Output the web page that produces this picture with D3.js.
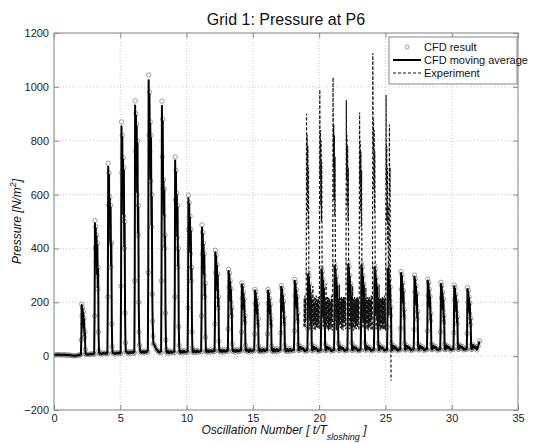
<!DOCTYPE html>
<html>
<head>
<meta charset="utf-8">
<script src="https://cdn.jsdelivr.net/npm/d3@7"></script>
<style>
	body { margin: 0; background: #fff; }
	text { font-family: Arial, 'Liberation Sans', sans-serif; }
</style>
</head>
<body>
<script>
// CFD baseline, one row per oscillation (t = row + k/10)
let baseRows = [
	[4,5,5,6,5,5,4,5,5,4],
	[4,4,3,3,2,1,1,2,3,4],
	[5,6,6,7,7,6,6,7,8,8],
	[8,11,7,12,8,11,7,12,9,12],
	[9,13,8,13,8,12,8,13,10,13],
	[10,16,9,17,10,16,9,17,11,17],
	[12,18,60,35,28,18,12,19,12,19],
	[15,20,70,90,62,45,40,26,22,14],
	[16,22,35,25,20,12,19,11,19,13],
	[15,21,22,18,20,13,20,12,21,14],
	[16,22,20,19,21,14,21,13,22,15],
	[17,23,20,19,22,15,22,14,23,16],
	[18,24,20,20,23,15,23,14,24,16],
	[19,25,21,20,24,16,24,15,25,17],
	[20,26,21,21,25,16,25,15,26,17],
	[21,27,22,22,26,17,26,16,27,18],
	[22,28,23,22,27,17,27,16,28,18],
	[23,28,24,23,27,18,27,17,28,19],
	[22,24,26,28,34,27,35,25,30,18],
	[21,23,26,28,35,27,36,25,30,18],
	[21,23,27,29,35,28,36,26,31,18],
	[22,24,27,30,36,28,37,26,31,19],
	[22,24,28,30,36,29,37,27,32,19],
	[22,24,28,31,37,29,38,27,32,19],
	[23,25,28,31,37,30,38,28,33,20],
	[23,25,29,32,38,30,39,28,33,20],
	[24,26,29,32,38,31,39,29,34,21],
	[24,26,30,33,39,31,40,29,34,21],
	[25,27,30,33,39,32,40,30,35,22],
	[25,27,31,34,40,32,41,30,35,22],
	[26,28,31,34,40,33,41,31,36,23],
	[26,28,32,35,41,33,42,31,36,23],
	[38,56]
]

// CFD impact pulses: start time and values every 0.03
let pulseStart = [2.03, 3.03, 4.03, 5.03, 6.06, 7.08, 8.08, 9.08, 10.08, 11.1,
	12.11, 13.11, 14.11, 15.1, 16.08, 17.08, 18.1, 19.11, 20.12, 21.12,
	22.13, 23.13, 24.13, 25.12, 26.12, 27.13, 28.13, 29.13, 30.13, 31.13]
let pulseValues = [
	[6,60,193,150,180,120,165,100,140,70,90,25,9,7],
	[8,150,503,400,480,350,450,300,420,250,330,90,20,9],
	[9,220,716,560,680,480,590,420,560,330,420,120,35,12],
	[10,260,870,680,820,600,737,520,700,400,500,160,50,16],
	[12,280,948,760,900,700,862,600,800,450,560,200,90,40],
	[15,310,1044,820,980,760,870,650,820,480,600,230,130,75],
	[13,280,947,740,880,620,654,520,620,400,450,160,60,25],
	[13,220,740,580,690,500,605,440,560,330,400,110,40,16],
	[14,180,598,470,570,420,520,380,470,280,330,90,30,17],
	[16,150,487,380,460,330,420,300,380,220,270,70,22,17],
	[17,120,393,310,375,270,340,240,305,180,220,55,20,17],
	[18,100,322,255,308,220,280,200,250,150,180,45,20,18],
	[19,90,272,215,260,185,236,170,212,125,150,40,21,19],
	[20,82,248,195,238,170,215,155,193,115,138,38,21,20],
	[21,82,248,196,237,168,214,154,192,114,137,38,22,21],
	[22,86,262,207,251,178,227,163,203,120,145,40,23,22],
	[21,94,285,225,273,194,247,177,221,131,158,42,22,21],
	[20,102,310,245,297,211,268,193,240,142,171,44,21,20],
	[20,108,328,259,314,223,284,204,254,150,181,46,21,20],
	[21,112,341,269,327,232,295,212,264,156,188,48,22,21],
	[21,114,347,274,332,236,300,216,269,159,191,49,22,21],
	[22,113,344,272,330,234,298,214,267,158,190,49,23,22],
	[22,111,336,265,322,229,291,209,260,154,185,48,23,22],
	[22,109,330,261,316,225,286,205,256,151,182,48,23,22],
	[23,104,314,248,301,214,272,195,243,144,173,47,24,23],
	[23,99,301,238,288,205,261,187,233,138,166,46,24,23],
	[24,94,286,226,274,195,248,178,222,131,158,45,25,24],
	[24,90,274,216,262,187,237,170,212,126,151,44,25,24],
	[25,87,264,209,253,180,229,164,205,121,146,43,26,25],
	[25,84,254,200,243,173,220,158,197,117,140,42,26,25]
]
let pulseStep = 0.03

// experiment, one row per oscillation, values every 0.025 from expStart
let expStart = 18.85
let expStep = 0.025
let expRows = [
	[110,215,120,225,105,210,130,230,900,620,820,540,780,470,700,300,140,220,100,210,125,225,105,215,90,205,140,260,115,210,100,220,130,200,95,215,120,225,105,210],
	[125,210,105,220,130,215,100,235,990,660,840,560,800,500,720,320,150,215,110,200,135,225,95,210,105,215,130,270,110,205,100,220,125,210,95,220,115,215,100,205],
	[120,205,100,225,135,210,95,235,1035,700,860,580,820,520,740,340,130,225,95,210,140,220,100,215,110,200,135,265,115,200,105,215,130,220,100,210,120,215,95,220],
	[130,215,110,220,125,205,100,225,950,660,820,560,780,500,700,310,145,210,100,220,125,215,105,225,95,210,130,260,105,215,95,210,125,220,100,215,110,205,100,215],
	[115,220,105,215,130,210,95,230,905,640,800,540,760,480,690,300,135,215,110,205,130,220,100,210,105,215,130,255,120,210,100,220,125,205,95,215,120,220,105,210],
	[125,210,100,225,135,215,95,240,1125,760,880,620,840,540,760,360,150,220,100,215,135,210,105,220,95,205,135,265,110,205,95,215,125,215,100,210,115,220,100,215],
	[120,215,100,225,130,210,95,230,970,640,780,500,700,420,560,250,150,210,860,600,700,300,120,-90]
]

let xTicks = [0, 5, 10, 15, 20, 25, 30, 35]
let yTicks = [-200, 0, 200, 400, 600, 800, 1000, 1200]
let legendLabels = ['CFD result', 'CFD moving average', 'Experiment']

// ---- build series ----
let pulses = []
pulseStart.forEach((t0, j) => {
	pulseValues[j].forEach((v, k) => pulses.push({t: t0 + k*pulseStep, p: v}))
})
let inPulse = t => pulseStart.some((t0, j) => t >= t0 - 0.005 && t <= t0 + (pulseValues[j].length - 1)*pulseStep + 0.005)

let cfd = []
baseRows.forEach((row, u) => row.forEach((v, k) => {
	let t = u + k/10
	if (!inPulse(t)) cfd.push({t: t, p: v})
}))
cfd = cfd.concat(pulses).sort((a, b) => a.t - b.t)

// light 3 point moving average
let avg = cfd.map((d, i) => {
	let a = cfd[Math.max(i-1, 0)].p, b = cfd[Math.min(i+1, cfd.length-1)].p
	return {t: d.t, p: 0.02*a + 0.96*d.p + 0.02*b}
})

let exp = []
expRows.flat().forEach((v, i) => exp.push({t: expStart + i*expStep, p: v}))

// ---- chart ----
let W = 541, H = 443
let x0 = 54, x1 = 518, y0 = 33, y1 = 410

let svg = d3.select('body').append('svg').attr('width', W).attr('height', H)

let x = d3.scaleLinear().domain([0, 35]).range([x0, x1])
let y = d3.scaleLinear().domain([-200, 1200]).range([y1, y0])

svg.append('rect').attr('x', 0).attr('y', 0).attr('width', W).attr('height', H).attr('fill', '#fff')

// grid
let grid = svg.append('g').attr('stroke', '#bdbdbd').attr('stroke-width', 0.8).attr('stroke-dasharray', '1,2')
grid.selectAll('.gx').data(xTicks).join('line')
	.attr('x1', d => x(d)).attr('x2', d => x(d)).attr('y1', y0).attr('y2', y1)
grid.selectAll('.gy').data(yTicks).join('line')
	.attr('y1', d => y(d)).attr('y2', d => y(d)).attr('x1', x0).attr('x2', x1)

svg.append('clipPath').attr('id', 'clip').append('rect')
	.attr('x', x0).attr('y', y0).attr('width', x1-x0).attr('height', y1-y0)
let plot = svg.append('g').attr('clip-path', 'url(#clip)')

// CFD result markers
plot.append('g').selectAll('circle').data(cfd).join('circle')
	.attr('cx', d => x(d.t)).attr('cy', d => y(d.p)).attr('r', 2.2)
	.attr('fill', 'none').attr('stroke', '#777').attr('stroke-width', 0.7)

let line = d3.line().x(d => x(d.t)).y(d => y(d.p))

plot.append('path').attr('d', line(avg))
	.attr('fill', 'none').attr('stroke', '#000').attr('stroke-width', 2).attr('stroke-linejoin', 'round')

plot.append('path').attr('d', line(exp))
	.attr('fill', 'none').attr('stroke', '#111').attr('stroke-width', 1.2).attr('stroke-dasharray', '3,2')

// axes, MATLAB style box with inward ticks
let axisColor = '#888'
let styleAxis = g => {
	g.select('.domain').remove()
	g.selectAll('.tick line').attr('stroke', axisColor)
	g.selectAll('.tick text').attr('fill', '#222').style('font-size', '11px')
}
svg.append('g').attr('transform', `translate(0,${y1})`)
	.call(d3.axisBottom(x).tickValues(xTicks).tickSize(-5).tickPadding(4).tickFormat(d3.format('d'))).call(styleAxis)
svg.append('g').attr('transform', `translate(0,${y0})`)
	.call(d3.axisTop(x).tickValues(xTicks).tickSize(-5).tickFormat('')).call(styleAxis)
svg.append('g').attr('transform', `translate(${x0},0)`)
	.call(d3.axisLeft(y).tickValues(yTicks).tickSize(-5).tickPadding(5).tickFormat(d3.format('d'))).call(styleAxis)
svg.append('g').attr('transform', `translate(${x1},0)`)
	.call(d3.axisRight(y).tickValues(yTicks).tickSize(-5).tickFormat('')).call(styleAxis)

svg.append('rect').attr('x', x0).attr('y', y0).attr('width', x1-x0).attr('height', y1-y0)
	.attr('fill', 'none').attr('stroke', axisColor).attr('stroke-width', 1)

// title and labels
svg.append('text').attr('x', (x0+x1)/2).attr('y', 25).attr('text-anchor', 'middle')
	.style('font-size', '16px').attr('fill', '#111').text('Grid 1: Pressure at P6')

let xl = svg.append('text').attr('x', (x0+x1)/2 - 2).attr('y', 434).attr('text-anchor', 'middle')
	.style('font-size', '12px').style('font-style', 'italic').attr('fill', '#111')
xl.append('tspan').text('Oscillation Number [ t/T')
xl.append('tspan').attr('dy', 6).style('font-size', '9px').text('sloshing')
xl.append('tspan').attr('dy', -6).text(' ]')

let yl = svg.append('text').attr('transform', `translate(21,${(y0+y1)/2}) rotate(-90)`).attr('text-anchor', 'middle')
	.style('font-size', '12px').style('font-style', 'italic').attr('fill', '#111')
yl.append('tspan').text('Pressure [N/m')
yl.append('tspan').attr('dy', -5).style('font-size', '9px').text('2')
yl.append('tspan').attr('dy', 5).text(']')

// legend
let lg = svg.append('g').attr('transform', 'translate(389,37)')
lg.append('rect').attr('width', 128).attr('height', 47).attr('fill', '#fff').attr('stroke', axisColor)
let rowY = [10, 23, 36]
lg.append('circle').attr('cx', 18).attr('cy', rowY[0]).attr('r', 2)
	.attr('fill', 'none').attr('stroke', '#777').attr('stroke-width', 0.7)
lg.append('line').attr('x1', 4).attr('x2', 32).attr('y1', rowY[1]).attr('y2', rowY[1])
	.attr('stroke', '#000').attr('stroke-width', 2)
lg.append('line').attr('x1', 4).attr('x2', 32).attr('y1', rowY[2]).attr('y2', rowY[2])
	.attr('stroke', '#111').attr('stroke-width', 1.1).attr('stroke-dasharray', '3,2')
lg.selectAll('.lt').data(legendLabels).join('text')
	.attr('x', 35).attr('y', (d, i) => rowY[i] + 4)
	.style('font-size', '11px').attr('fill', '#111').text(d => d)
</script>
</body>
</html>
